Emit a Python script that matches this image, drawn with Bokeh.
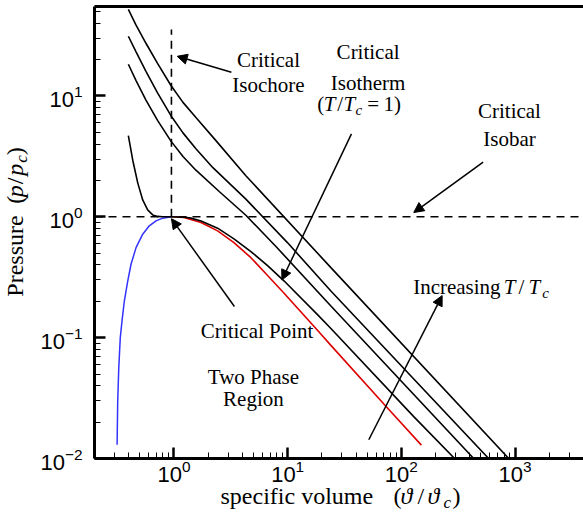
import math
from bokeh.plotting import figure
from bokeh.layouts import row, column
from bokeh.models import LogAxis, Label, Arrow, NormalHead, FixedTicker
from bokeh.embed import file_html
from bokeh.resources import INLINE

# Reduced specific volume (v/vc) and reduced pressure (p/pc) along the isotherms
crit_v = 0.95
crit_p = 1.0

# critical isotherm, T/Tc = 1
iso1_v = [0.397, 0.434, 0.480, 0.531, 0.587, 0.650, 0.719, 0.796, 0.95, 1.2, 1.41, 1.73,
          2.42, 3.37, 4.75, 6.66, 9.32, 18.3, 24.0, 128.5, 294]
iso1_p = [4.70, 2.94, 1.91, 1.38, 1.141, 1.037, 1.008, 1.002, 1.0, 0.995, 0.975, 0.925,
          0.805, 0.656, 0.516, 0.395, 0.294, 0.155, 0.119, 0.0222, 0.01]

iso2_v = [0.397, 0.464, 0.567, 0.719, 0.941, 1.2, 1.56, 2.50, 4.29, 8.0, 24.0, 433]
iso2_p = [18.3, 13.4, 9.25, 6.25, 4.23, 3.16, 2.43, 1.62, 1.03, 0.56, 0.183, 0.01]

iso3_v = [0.397, 0.464, 0.567, 0.719, 0.941, 1.2, 1.56, 2.20, 4.29, 10.0, 24.0, 586]
iso3_p = [31.2, 23.2, 16.0, 10.57, 6.87, 4.95, 3.66, 2.55, 1.40, 0.609, 0.243, 0.01]

iso4_v = [0.397, 0.464, 0.567, 0.719, 0.941, 1.2, 1.56, 2.34, 4.29, 24.0, 880]
iso4_p = [52.0, 38.5, 27.3, 18.5, 12.2, 8.85, 6.63, 4.27, 2.19, 0.380, 0.01]

# saturated vapour branch of the dome
vap_v = [0.95, 1.224, 1.73, 2.42, 3.37, 4.75, 6.66, 9.26, 13.1, 18.3, 24.0, 75.5, 150]
vap_p = [1.0, 0.987, 0.897, 0.765, 0.612, 0.459, 0.327, 0.234, 0.163, 0.115, 0.0863, 0.0262, 0.0129]

# saturated liquid branch of the dome
liq_v = [0.316, 0.320, 0.327, 0.337, 0.349, 0.366, 0.392, 0.419, 0.464, 0.531,
         0.607, 0.695, 0.796, 0.95]
liq_p = [0.013, 0.0297, 0.0562, 0.0996, 0.137, 0.201, 0.294, 0.405, 0.556, 0.718,
         0.842, 0.926, 0.975, 1.0]

isochore_top = 35.5
x_lo, x_hi = 0.2, 4000
y_lo, y_hi = 0.01, 55

SERIF = "Liberation Serif"
FS, XL, SUB, SUB_S = 21, 24, 17, 15
BASELINE_K = 0.33   # lifts Label text so that its anchor sits on the alphabetic baseline

LEFT_W = 32     # strip holding the vertical axis title
BOTTOM_H = 28   # room left under the main figure for the horizontal axis title
OVERLAP = 10    # the title strip reaches up over the (empty) lower tick-label band
W, H = 583, 514
TOP_H = H - BOTTOM_H

p = figure(width=W - LEFT_W, height=TOP_H, x_axis_type="log", y_axis_type="log",
           x_range=(x_lo, x_hi), y_range=(y_lo, y_hi),
           min_border_left=94 - LEFT_W, min_border_right=0, min_border_top=6,
           min_border_bottom=TOP_H - 458, toolbar_location=None,
           output_backend="svg")
p.grid.visible = False
p.outline_line_color = None

for ax in (p.xaxis[0], p.yaxis[0]):
    ax.axis_line_width = 3
    ax.major_tick_in = 11
    ax.major_tick_out = 0
    ax.minor_tick_in = 6
    ax.minor_tick_out = 0
    ax.major_tick_line_width = 2.5
    ax.minor_tick_line_width = 1
    ax.major_label_text_font = "Liberation Sans"
    ax.major_label_text_font_size = "22px"
    ax.major_label_text_color = "black"
p.xaxis[0].major_label_standoff = 1
p.yaxis[0].major_label_standoff = 12

top = LogAxis(ticker=FixedTicker(ticks=[], minor_ticks=[]), axis_line_width=3,
              major_tick_in=0, major_tick_out=0, minor_tick_in=0, minor_tick_out=0,
              major_label_standoff=0)
p.add_layout(top, "above")

# critical isobar and isochore
p.line([x_lo, x_hi], [crit_p, crit_p], line_color="black", line_width=1.6, line_dash="8 6")
p.line([crit_v, crit_v], [crit_p, isochore_top], line_color="black", line_width=1.6, line_dash="8 6")

# two-phase dome
p.line(liq_v, liq_p, line_color="#3333ff", line_width=1.5)
p.line(vap_v, vap_p, line_color="#dd0000", line_width=1.6)

# isotherms
for xs, ys in ((iso1_v, iso1_p), (iso2_v, iso2_p), (iso3_v, iso3_p), (iso4_v, iso4_p)):
    p.line(xs, ys, line_color="black", line_width=1.6)

# annotation arrows: (start v, start p, end v, end p)
arrows = [
    (3.20, 15.7, 1.067, 21.3),     # critical isochore
    (36.4, 4.86, 8.9, 0.30),       # critical isotherm
    (524, 2.83, 128.5, 1.085),     # critical isobar
    (3.40, 0.181, 0.95, 0.965),    # critical point
    (51.7, 0.0143, 228.5, 0.223),  # increasing temperature
]
for xs, ys, xe, ye in arrows:
    p.add_layout(Arrow(x_start=xs, y_start=ys, x_end=xe, y_end=ye,
                       line_color="black", line_width=1.5,
                       end=NormalHead(size=10, fill_color="black", line_color="black",
                                      line_width=1)))


def text(fig, x, y, s, size=FS, align="center", style="normal", dx=0, dy=0, angle=0.0):
    lift = BASELINE_K * size
    if angle:
        dx -= lift
    else:
        dy += lift
    fig.add_layout(Label(x=x, y=y, text=s, text_font=SERIF, text_font_size=f"{size}px",
                         text_font_style=style, text_align=align,
                         text_baseline="alphabetic", text_color="black",
                         x_offset=dx, y_offset=dy, angle=angle))


text(p, 6.78, 17.5, "Critical")
text(p, 6.78, 10.7, "Isochore")

text(p, 51.0, 20.4, "Critical")
text(p, 51.0, 11.3, "Isotherm")
for s, dx, dy, st, sz in (("(", 0, 0, "normal", FS), ("T", 6.6, 0, "italic", FS),
                          ("/", 20, 0, "normal", FS), ("T", 26.3, 0, "italic", FS),
                          ("c", 38.3, -4, "italic", SUB_S), ("=", 50, 0, "normal", FS),
                          ("1)", 66.3, 0, "normal", FS)):
    text(p, 18.2, 7.58, s, size=sz, align="left", style=st, dx=dx, dy=dy)

text(p, 893, 6.63, "Critical")
text(p, 893, 3.89, "Isobar")

text(p, 5.39, 0.1003, "Critical Point")
text(p, 5.0, 0.0417, "Two Phase")
text(p, 5.0, 0.0274, "Region")

for s, dx, dy, st, sz in (("Increasing", 0, 0, "normal", FS), ("T", 90.6, 0, "italic", FS),
                          ("/", 105.3, 0, "normal", FS), ("T", 115.3, 0, "italic", FS),
                          ("c", 129, -4, "italic", SUB_S)):
    text(p, 127, 0.2318, s, size=sz, align="left", style=st, dx=dx, dy=dy)


def strip(w, h, **kw):
    f = figure(width=w, height=h, x_range=(0, w), y_range=(0, h), min_border=0,
               x_axis_location=None, y_axis_location=None,
               toolbar_location=None, output_backend="svg", **kw)
    f.grid.visible = False
    f.outline_line_color = None
    f.background_fill_color = None
    f.border_fill_color = None
    return f


# horizontal axis title across the full width, laid out piece by piece
xlab = strip(W, BOTTOM_H + OVERLAP, margin=(-OVERLAP, 0, 0, 0))
for s, x, y, st, sz in (("specific volume", 220, 11, "normal", XL),
                        ("(", 393, 11, "normal", XL),
                        ("\u03d1", 400, 11, "italic", XL),
                        ("/", 417, 11, "normal", XL),
                        ("\u03d1", 427, 11, "italic", XL),
                        ("c", 443, 6, "italic", SUB),
                        (")", 452, 11, "normal", XL)):
    text(xlab, x, y, s, size=sz, align="left", style=st)

# vertical axis title, rotated to read upwards
ylab = strip(LEFT_W, TOP_H)
ang = math.pi / 2
for s, x, y, st, sz in (("Pressure", 22.5, TOP_H - 312, "normal", XL),
                        ("(", 22.5, TOP_H - 212, "normal", XL),
                        ("p", 22.5, TOP_H - 205, "italic", XL),
                        ("/", 22.5, TOP_H - 191, "normal", XL),
                        ("p", 22.5, TOP_H - 182, "italic", XL),
                        ("c", 26.5, TOP_H - 168, "italic", SUB),
                        (")", 22.5, TOP_H - 160, "normal", XL)):
    text(ylab, x, y, s, size=sz, align="left", style=st, angle=ang)

layout = column(row(ylab, p), xlab)
open("out.html", "w").write(file_html(layout, INLINE))
